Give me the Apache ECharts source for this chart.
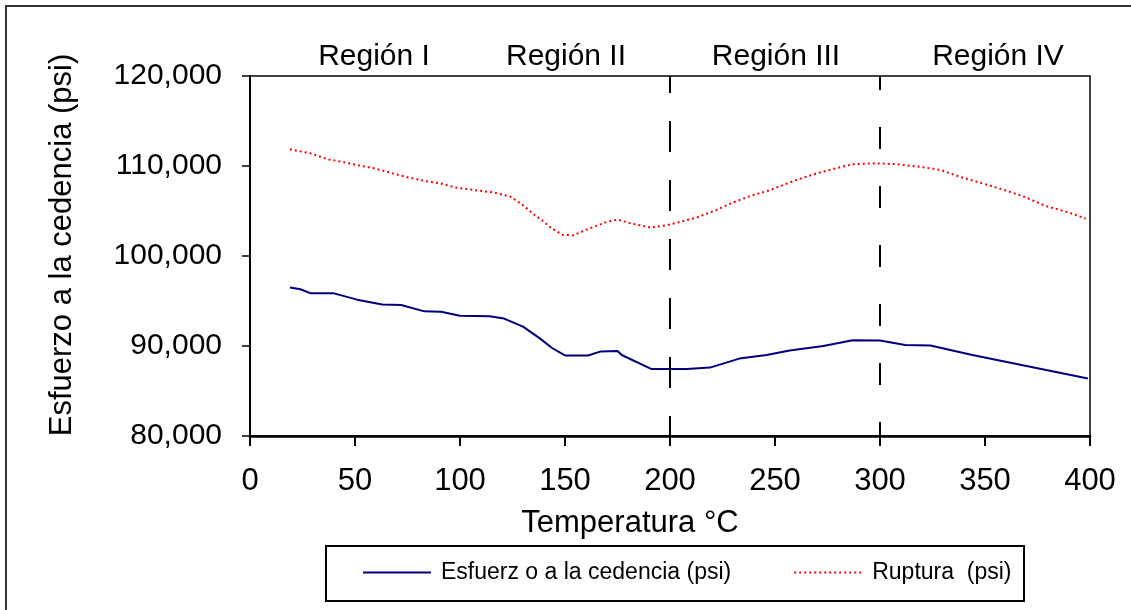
<!DOCTYPE html>
<html>
<head>
<meta charset="utf-8">
<script src="https://cdn.jsdelivr.net/npm/echarts@6/dist/echarts.min.js"></script>
<style>
html,body{margin:0;padding:0;background:#fff;}
#chart{width:1131px;height:610px;}
</style>
</head>
<body>
<div id="chart"></div>
<script>
// ---- data ----
const yieldTemps = [19, 24, 29, 40, 51, 63, 72, 83, 91, 100, 114, 121, 130, 138, 144, 150, 161, 167, 175, 177, 191, 208, 219, 233, 246, 257, 273, 287, 300, 312, 324, 344, 368, 399];
const yieldValues = [96500, 96300, 95850, 95850, 95150, 94600, 94550, 93850, 93800, 93350, 93300, 93050, 92150, 90850, 89750, 88950, 88950, 89400, 89450, 89000, 87450, 87450, 87600, 88600, 89000, 89500, 90000, 90650, 90600, 90100, 90050, 89000, 87850, 86400];
const ruptureTemps = [19, 29, 37, 43, 51, 59, 67, 75, 83, 91, 98, 106, 116, 124, 130, 135, 140, 144, 149, 154, 160, 170, 175, 181, 191, 198, 205, 213, 222, 229, 238, 248, 259, 270, 279, 287, 298, 308, 321, 329, 338, 349, 359, 368, 379, 389, 398];
const ruptureValues = [111850, 111400, 110750, 110500, 110100, 109750, 109250, 108750, 108350, 108050, 107600, 107350, 107050, 106600, 105650, 104650, 103800, 103000, 102350, 102300, 102900, 103800, 104050, 103650, 103150, 103400, 103800, 104300, 105100, 105850, 106650, 107350, 108350, 109200, 109750, 110200, 110300, 110200, 109850, 109550, 108800, 108050, 107350, 106650, 105550, 104900, 104150];
const regionBoundaries = [200, 300];
const regionLabels = ['Región I', 'Región II', 'Región III', 'Región IV'];
const seriesNames = ['Esfuerz o a la cedencia (psi)', 'Ruptura  (psi)'];
const xTitle = 'Temperatura °C';
const yTitle = 'Esfuerzo a la cedencia (psi)';

const FONT = "'Liberation Sans', Arial, sans-serif";
const chart = echarts.init(document.getElementById('chart'), null, {renderer: 'canvas'});

const regionX = [374, 566, 776, 998];
const boundaryDash = [
  {type: [31, 28], dashOffset: 11},
  {type: [22, 37], dashOffset: 8}
];

chart.setOption({
  animation: false,
  backgroundColor: '#fff',
  grid: {left: 250, right: 41, top: 76, bottom: 174, show: true, borderColor: '#000', borderWidth: 1.5, containLabel: false},
  xAxis: {
    type: 'value', min: 0, max: 400, interval: 50,
    axisLine: {show: true, onZero: false, lineStyle: {color: '#000', width: 2.5}},
    axisTick: {show: true, inside: false, length: 10, lineStyle: {color: '#000', width: 2}},
    axisLabel: {color: '#000', fontSize: 31, fontFamily: FONT, margin: 30},
    splitLine: {show: false}
  },
  yAxis: {
    type: 'value', min: 80000, max: 120000, interval: 10000,
    axisLine: {show: true, onZero: false, lineStyle: {color: '#000', width: 2}},
    axisTick: {show: true, inside: false, length: 8, lineStyle: {color: '#000', width: 1.5}},
    axisLabel: {color: '#000', fontSize: 30, fontFamily: FONT, margin: 28, padding: [0, 0, 16, 0],
      formatter: v => v.toLocaleString('en-US')},
    splitLine: {show: false}
  },
  legend: {
    left: 362, top: 561, padding: 0, itemGap: 62, itemWidth: 68, itemHeight: 10,
    itemStyle: {opacity: 0},
    textStyle: {color: '#000', fontSize: 23, fontFamily: FONT, padding: [0, 0, 0, 5]},
    data: seriesNames
  },
  series: [
    {
      name: seriesNames[0], type: 'line', symbol: 'none', showSymbol: false,
      data: yieldTemps.map((t, i) => [t, yieldValues[i]]),
      lineStyle: {color: '#000080', width: 2}, itemStyle: {color: '#000080'},
      markLine: {
        silent: true, symbol: 'none', label: {show: false},
        lineStyle: {color: '#000', width: 2, type: [26, 33]},
        data: regionBoundaries.map((b, i) => ({
          xAxis: b,
          lineStyle: Object.assign({color: '#000', width: 2}, boundaryDash[i])
        }))
      }
    },
    {
      name: seriesNames[1], type: 'line', symbol: 'none', showSymbol: false,
      data: ruptureTemps.map((t, i) => [t, ruptureValues[i]]),
      lineStyle: {color: '#ff0000', width: 2, type: [2, 3]}, itemStyle: {color: '#ff0000'}
    }
  ],
  graphic: [
    {type: 'rect', shape: {x: 6, y: 6, width: 1200, height: 700}, style: {fill: 'none', stroke: '#333', lineWidth: 2}, silent: true},
    {type: 'rect', shape: {x: 326, y: 546, width: 698, height: 55}, style: {fill: 'none', stroke: '#000', lineWidth: 2}, silent: true, z: -1},
    {type: 'text', x: 62, y: 245, rotation: Math.PI / 2,
      style: {text: yTitle, fontSize: 31, fontFamily: FONT, fill: '#000', align: 'center', verticalAlign: 'middle'}},
    {type: 'text', x: 630, y: 523,
      style: {text: xTitle, fontSize: 31, fontFamily: FONT, fill: '#000', align: 'center', verticalAlign: 'middle'}}
  ].concat(regionLabels.map((r, i) => ({
    type: 'text', x: regionX[i], y: 57,
    style: {text: r, fontSize: 30, fontFamily: FONT, fill: '#000', align: 'center', verticalAlign: 'middle'}
  })))
});
</script>
</body>
</html>
